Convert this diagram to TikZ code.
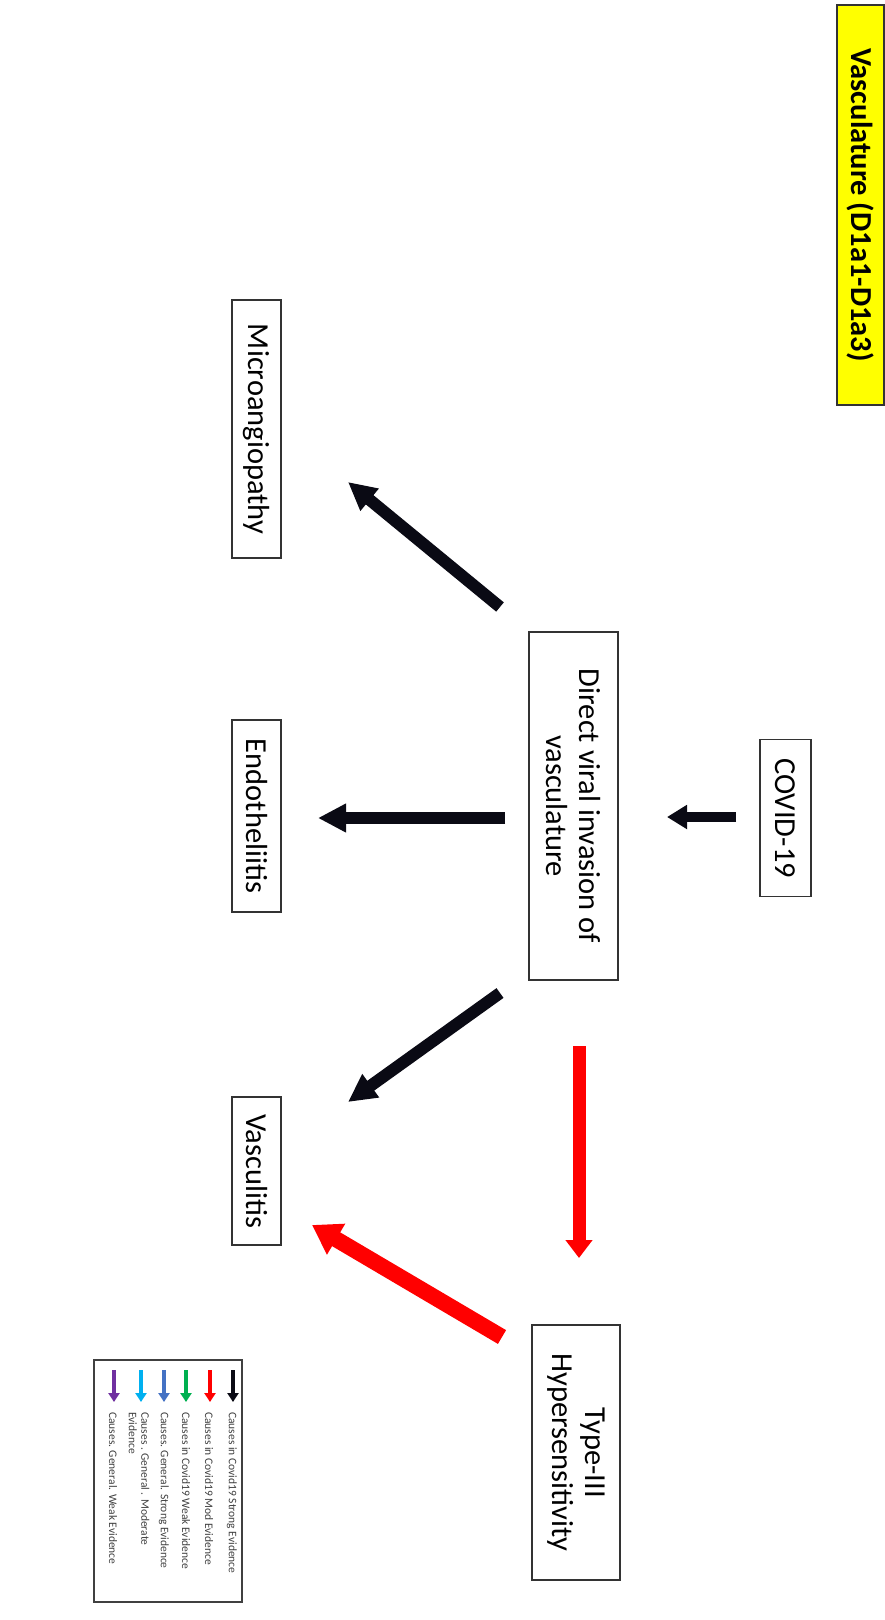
\documentclass[tikz,border=0pt]{standalone}
\usepackage{fontspec}
\setmainfont{Carlito}
\usetikzlibrary{arrows.meta}
\definecolor{ttlyellow}{HTML}{FFFF00}
\definecolor{arrblack}{HTML}{0A0A14}
\definecolor{arrred}{HTML}{FF0000}
\definecolor{arrgreen}{HTML}{00B050}
\definecolor{arrblue}{HTML}{4472C4}
\definecolor{arrlblue}{HTML}{00B0F0}
\definecolor{arrpurple}{HTML}{7030A0}
\begin{document}
\begin{tikzpicture}[x=1pt,y=-1pt,
  box/.style={draw=black!80, line width=1.3pt, fill=white, rotate=-90, inner sep=0pt,
    font=\fontsize{30.5}{33}\selectfont, align=center},
  ttl/.style={draw=black!80, line width=1.3pt, fill=ttlyellow, rotate=-90, inner sep=0pt,
    font=\fontsize{30.5}{33}\selectfont\bfseries},
  bigarrow/.style={arrblack, line width=12pt, -{Triangle[length=28pt,width=27pt]}},
  redarrow/.style={arrred, line width=14pt, -{Triangle[length=18pt,width=26pt]}},
  legarrow/.style={line width=4.5pt, -{Triangle[length=9pt,width=11pt]}},
  legtext/.style={rotate=-90, anchor=west, inner sep=0pt, text=black!75,
    font=\fontsize{11.5}{12.5}\selectfont, align=left},
  legbox/.style={draw=black!75, line width=1.2pt}
]
\useasboundingbox (0,0) rectangle (885,1620);

% title
\node[ttl, minimum width=400pt, minimum height=47pt] (title) at (860.5,205) {Vasculature (D1a1-D1a3)};

% boxes
\node[box, minimum width=258pt, minimum height=49pt] (micro) at (256.5,429) {Microangiopathy};
\node[box, minimum width=192pt, minimum height=49pt] (endo) at (256.5,816) {Endotheliitis};
\node[box, minimum width=148pt, minimum height=49pt] (vascu) at (256.5,1171) {Vasculitis};
\node[box, minimum width=348pt, minimum height=89pt] (direct) at (573.5,806) {Direct viral invasion of\\vasculature};
\node[box, minimum width=157pt, minimum height=51pt] (covid) at (785.5,818) {COVID-19};
\node[box, minimum width=255pt, minimum height=88pt] (type3) at (576,1452.5) {Type-III\\Hypersensitivity};

% arrow end points
\coordinate (covT) at (736,817);   \coordinate (covH) at (667,817);
\coordinate (micT) at (500,607);   \coordinate (micH) at (348,482);
\coordinate (endT) at (505,818);   \coordinate (endH) at (318,818);
\coordinate (vasT) at (500,993);   \coordinate (vasH) at (348,1102);
\coordinate (t3T) at (579,1046);   \coordinate (t3H) at (579,1258);
\coordinate (rvT) at (502,1337);   \coordinate (rvH) at (312,1225);

\draw[bigarrow, line width=10pt, -{Triangle[length=20pt,width=23pt]}] (covT) -- (covH);
\draw[bigarrow] (micT) -- (micH);
\draw[bigarrow] (endT) -- (endH);
\draw[bigarrow] (vasT) -- (vasH);
\draw[redarrow, line width=13pt] (t3T) -- (t3H);
\draw[redarrow, line width=16pt, -{Triangle[length=28pt,width=34pt]}] (rvT) -- (rvH);

% legend
\draw[legbox] (94,1360) rectangle (242,1602);
\coordinate (la1) at (233,1370); \coordinate (lb1) at (233,1402);
\coordinate (la2) at (210,1370); \coordinate (lb2) at (210,1402);
\coordinate (la3) at (186,1370); \coordinate (lb3) at (186,1402);
\coordinate (la4) at (164,1370); \coordinate (lb4) at (164,1402);
\coordinate (la5) at (141,1370); \coordinate (lb5) at (141,1402);
\coordinate (la6) at (114,1370); \coordinate (lb6) at (114,1402);
\draw[legarrow, arrblack] (la1) -- (lb1);
\draw[legarrow, arrred] (la2) -- (lb2);
\draw[legarrow, arrgreen] (la3) -- (lb3);
\draw[legarrow, arrblue] (la4) -- (lb4);
\draw[legarrow, arrlblue] (la5) -- (lb5);
\draw[legarrow, arrpurple] (la6) -- (lb6);
\node[legtext] (l1) at (232,1412) {Causes in Covid19 Strong Evidence};
\node[legtext] (l2) at (209,1412) {Causes in Covid19 Mod Evidence};
\node[legtext] (l3) at (186,1412) {Causes in Covid19 Weak Evidence};
\node[legtext] (l4) at (164,1412) {Causes. General. Strong Evidence};
\node[legtext] (l5) at (139,1412) {Causes . General . Moderate\\Evidence};
\node[legtext] (l6) at (113,1412) {Causes. General. Weak Evidence};
\end{tikzpicture}
\end{document}
